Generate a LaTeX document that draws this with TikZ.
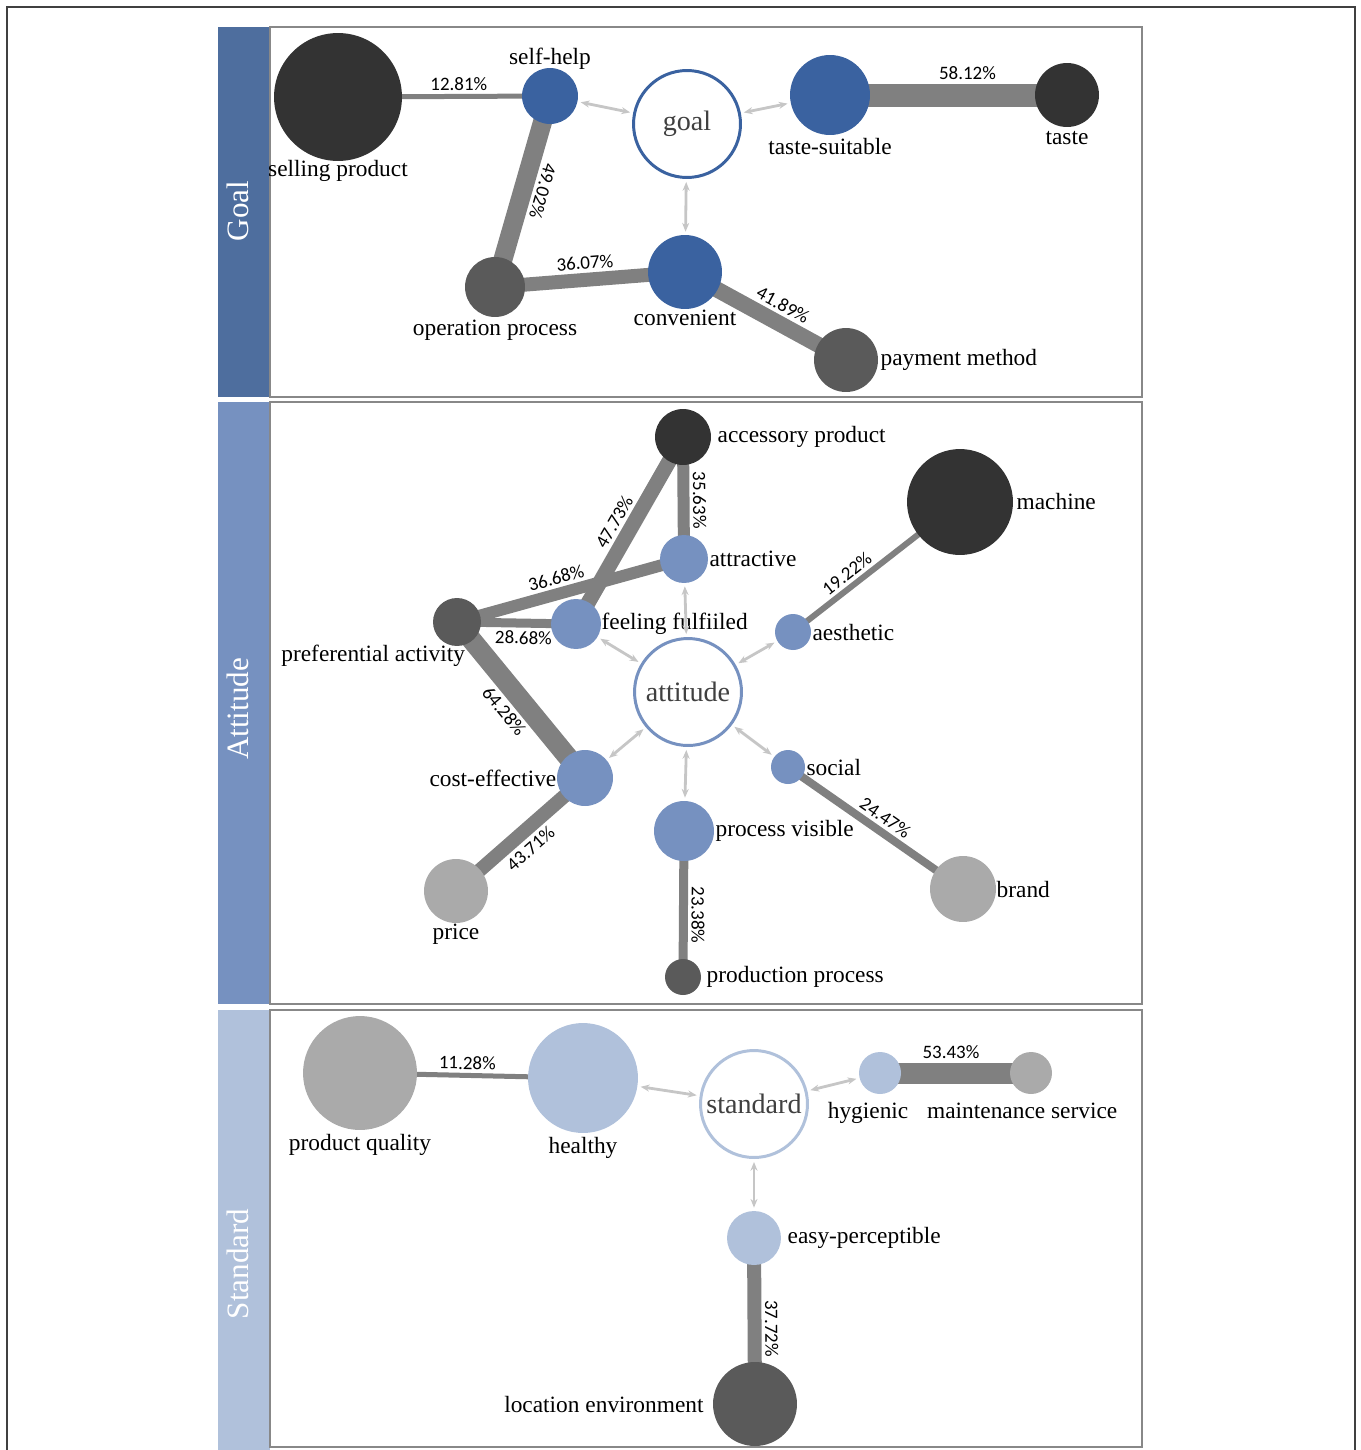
\documentclass[tikz,border=0pt]{standalone}
\usepackage{fontspec}
\setmainfont{Liberation Serif}
\newfontfamily\pctfont{Carlito}
\usetikzlibrary{arrows.meta,backgrounds}
\definecolor{goalside}{HTML}{4E6E9E}
\definecolor{goalnode}{HTML}{3A62A0}
\definecolor{attnode}{HTML}{7691C0}
\definecolor{stdnode}{HTML}{B0C1DB}
\definecolor{darkn}{HTML}{333333}
\definecolor{midn}{HTML}{5A5A5A}
\definecolor{lightn}{HTML}{AAAAAA}
\definecolor{edgegray}{HTML}{808080}
\definecolor{linkgray}{HTML}{C6C6C6}
\definecolor{framegray}{HTML}{888888}
\definecolor{hubtext}{HTML}{404040}

\begin{document}
\begin{tikzpicture}[x=0.02cm, y=-0.02cm,
        bub/.style={circle, inner sep=0pt, minimum size=#1*0.04cm},
        lab/.style={inner sep=0pt, text=black, font=\fontsize{13.3}{15}\selectfont},
        hub/.style={circle, draw=#1, line width=1.7pt, fill=white, inner sep=0pt,
            minimum size=2.14cm, text=hubtext, font=\fontsize{16}{19}\selectfont},
        pct/.style={inner sep=0pt, outer sep=0pt, sloped, allow upside down, text=black,
            font=\pctfont\fontsize{10.8}{13}\selectfont},
        link/.style={draw=linkgray, line width=1.6pt, shorten <=1.7pt, shorten >=1.7pt,
            {Stealth[length=5pt,width=4pt]}-{Stealth[length=5pt,width=4pt]}},
        title/.style={text=white, rotate=90, inner sep=0pt, font=\fontsize{17.7}{21}\selectfont}]
        \useasboundingbox (0,0) rectangle (1361,1450);
        \draw[color=black!75, line width=1pt] (7,1450) |- (1355,7) -- (1355,1450);
        \foreach \n/\t/\b/\s/\c/\ty in {Goal/27/397/397/goalside/211,
            Attitude/402/1004/1004/attnode/709, Standard/1010/1447/1450/stdnode/1264} {
            \fill[fill=\c] (218,\t) rectangle (270,\s);
            \draw[framegray, line width=1.1pt] (270,\t) rectangle (1142,\b);
            \node[title] (side-\n) at (238,\ty) {\n};
        }
        \node[hub=goalnode] (goal) at (687,124) {goal};
        \node[hub=attnode] (atd) at (688,692) {attitude};
        \node[hub=stdnode] (std) at (754,1104) {standard};
        \foreach \n/\x/\y/\r/\c/\a/\an/\d/\dx/\t in {
            sp/338/97/64/darkn/below/north/-1pt/0pt/selling product,
            sh/550/96/28/goalnode/above/south/-1.5pt/0pt/self-help,
            ts/830/95/40/goalnode/below/north/1.7pt/0pt/taste-suitable,
            ta/1067/95/32/darkn/below/north/2.3pt/0pt/taste,
            op/495/287/30/midn/below/north/1.1pt/0pt/operation process,
            cv/685/272/37/goalnode/below/north/0pt/0pt/convenient,
            pm/846/360/32/midn/right/west/1.1pt/0pt/payment method,
            ap/683/437/28/darkn/right/west/3.4pt/0pt/accessory product,
            ma/960/502/53/darkn/right/west/1.7pt/0pt/machine,
            atr/684/559/24/attnode/right/west/0.5pt/0pt/attractive,
            ff/576/624/25/attnode/right/west/0pt/0pt/feeling fulfiiled,
            pa/457/622/24/midn/-70/north east/0pt/0pt/preferential activity,
            ae/793/632/18/attnode/right/west/0.5pt/0pt/aesthetic,
            so/788/767/17/attnode/right/west/0.5pt/0pt/social,
            ce/585/778/28/attnode/left/east/0pt/0pt/cost-effective,
            pv/684/831/30/attnode/right/west/0.5pt/0pt/process visible,
            pr/456/891/32/lightn/below/north/0pt/0pt/price,
            br/963/889/33/lightn/right/west/0pt/0pt/brand,
            pp/683/977/18/midn/right/west/2.8pt/0pt/production process,
            pq/360/1073/57/lightn/below/north/2.3pt/0pt/product quality,
            he/583/1078/55/stdnode/below/north/2.3pt/0pt/healthy,
            hy/880/1073/21/stdnode/below/north/4.5pt/-6.8pt/hygienic,
            ms/1031/1073/21/lightn/below/north/4.5pt/-5pt/maintenance service,
            ep/754/1238/27/stdnode/right/west/3.4pt/0pt/easy-perceptible,
            le/755/1404/42/midn/left/east/5pt/0pt/location environment} {
            \node[bub=\r, fill=\c,
                label={[lab, anchor=\an, inner sep=\d, xshift=\dx]\a:\t}] (\n) at (\x,\y) {};
        }
        \scope[on background layer]
            \foreach \a/\b/\p/\w/\s/\q in {sp/sh/12.81/5/above/0.57,
                sh/op/49.02/19/above/0.47, op/cv/36.07/14/above/0.48,
                cv/pm/41.89/16/above/0.555, ts/ta/58.12/23/above/0.58,
                ap/atr/35.63/12/above/0.52, ff/ap/47.73/15/above/0.5,
                pa/atr/36.68/12/above/0.455, pa/ff/28.68/9/below/0.56,
                pa/ce/64.28/20/below/0.49, pr/ce/43.71/14/below/0.49,
                pv/pp/23.38/9/above/0.575, ae/ma/19.22/6/above/0.37,
                so/br/24.47/8/above/0.51, pq/he/11.28/5/above/0.48,
                hy/ms/53.43/21/above/0.47, ep/le/37.72/14/above/0.545} {
                \path[draw=edgegray, line width=\w*0.02cm] (\a.center) --
                    node[pct, pos=\q, \s=\w*0.01cm+2pt] {\p\%} (\b.center);
            }
        \endscope
        \foreach \h/\n in {goal/sh, goal/ts, goal/cv, atd/atr, atd/ff, atd/ae,
            atd/so, atd/ce, atd/pv, std/he, std/hy, std/ep} {
            \path[link] (\h) -- (\n);
        }
\end{tikzpicture}
\end{document}
